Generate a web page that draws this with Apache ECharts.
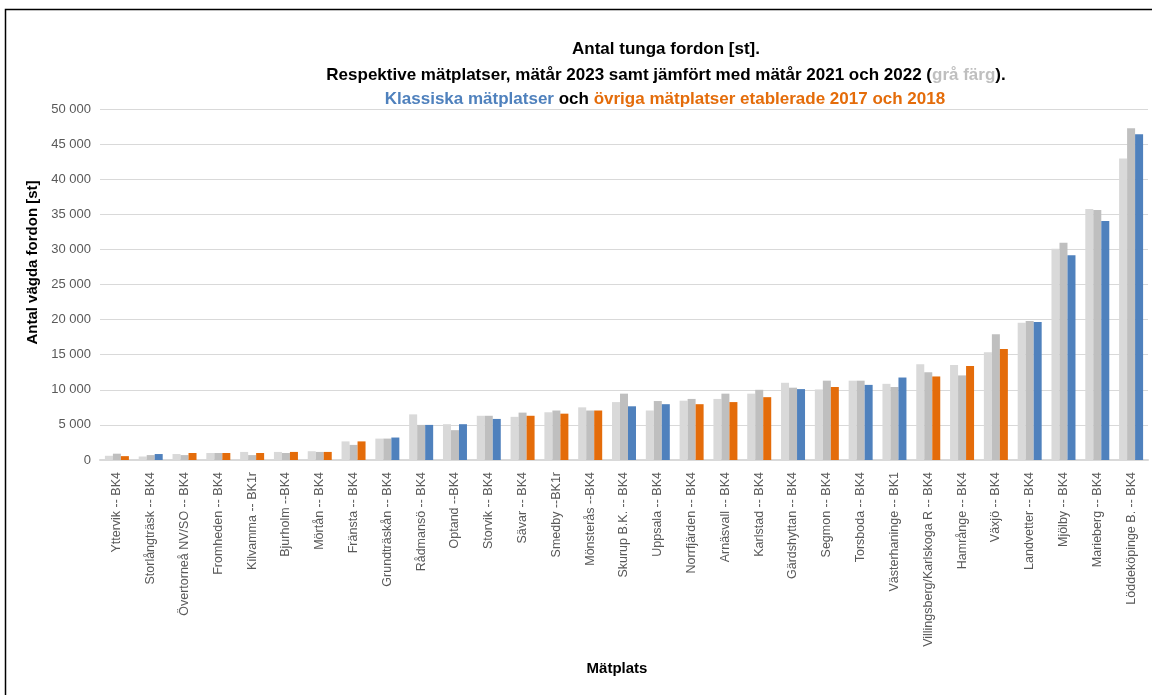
<!DOCTYPE html>
<html>
<head>
<meta charset="utf-8">
<script src="https://cdn.jsdelivr.net/npm/echarts@6/dist/echarts.min.js"></script>
<style>
html, body { margin: 0; padding: 0; background: #fff; }
#chart { width: 1152px; height: 695px; }
</style>
</head>
<body>
<div id="chart"></div>
<script>
var platser = [
    'Yttervik -- BK4', 'Storlångträsk -- BK4', 'Övertorneå NV/SO -- BK4', 'Fromheden -- BK4',
    'Kilvamma -- BK1r', 'Bjurholm --BK4', 'Mörtån -- BK4', 'Fränsta -- BK4', 'Grundträskån -- BK4',
    'Rådmansö -- BK4', 'Optand --BK4', 'Storvik -- BK4', 'Sävar -- BK4', 'Smedby --BK1r',
    'Mönsterås --BK4', 'Skurup B.K. -- BK4', 'Uppsala -- BK4', 'Norrfjärden -- BK4',
    'Arnäsvall -- BK4', 'Karlstad -- BK4', 'Gärdshyttan -- BK4', 'Segmon -- BK4',
    'Torsboda -- BK4', 'Västerhaninge -- BK1', 'Villingsberg/Karlskoga R -- BK4',
    'Hamrånge -- BK4', 'Växjö -- BK4', 'Landvetter -- BK4', 'Mjölby -- BK4',
    'Marieberg -- BK4', 'Löddeköpinge B. -- BK4'
];
// k = klassisk mätplats, o = övrig (etablerad 2017/2018)
var typ = ['o','k','o','o','o','o','o','o','k','k','k','k','o','o','o','k','k','o','o','o',
           'k','o','k','k','o','o','o','k','k','k','k'];
var mat2021 = [600, 500, 850, 1000, 1150, 1150, 1250, 2650, 3050, 6500, 5100, 6300, 6150, 6800,
               7500, 8250, 7050, 8450, 8700, 9450, 11000, 10050, 11300, 10850, 13650, 13550,
               15350, 19550, 30100, 35750, 42950];
var mat2022 = [900, 700, 700, 1000, 700, 1000, 1150, 2150, 3050, 5000, 4250, 6300, 6750, 7050,
               7050, 9450, 8400, 8700, 9450, 10000, 10300, 11300, 11300, 10400, 12500, 12050,
               17900, 19800, 30950, 35600, 47250];
var mat2023 = [550, 850, 1000, 1000, 1000, 1150, 1150, 2650, 3200, 5000, 5100, 5850, 6300, 6600,
               7050, 7650, 7950, 7950, 8250, 8950, 10100, 10400, 10700, 11750, 11900, 13400,
               15800, 19650, 29150, 34050, 46400];
var yTicks = [0, 5000, 10000, 15000, 20000, 25000, 30000, 35000, 40000, 45000, 50000];

var BLA = '#4f81bd', ORANGE = '#e46c0a';
var font = 'Liberation Sans';

function tusental(v) {
    return String(v).replace(/\B(?=(\d{3})+(?!\d))/g, ' ');
}

var chart = echarts.init(document.getElementById('chart'));
var option = {
    animation: false,
    backgroundColor: '#fff',
    textStyle: { fontFamily: font },
    graphic: [{
        type: 'rect',
        shape: { x: 5.5, y: 9.5, width: 1300, height: 900 },
        style: { fill: 'none', stroke: '#000', lineWidth: 1.5 },
        silent: true
    }],
    title: [{
        text: 'Antal tunga fordon [st].',
        left: 661, top: 36, textAlign: 'center',
        textStyle: { fontSize: 17, fontWeight: 'bold', color: '#000', fontFamily: font }
    }, {
        text: 'Respektive mätplatser, mätår 2023 samt jämfört med mätår 2021 och 2022 ({g|grå färg}).',
        left: 661, top: 62, textAlign: 'center',
        textStyle: {
            fontSize: 17, fontWeight: 'bold', color: '#000', fontFamily: font,
            rich: { g: { fontSize: 17, fontWeight: 'bold', color: '#bfbfbf', fontFamily: font } }
        }
    }, {
        text: '{b|Klassiska mätplatser} och {o|övriga mätplatser etablerade 2017 och 2018}',
        left: 660, top: 86, textAlign: 'center',
        textStyle: {
            fontSize: 17, fontWeight: 'bold', color: '#000', fontFamily: font,
            rich: {
                b: { fontSize: 17, fontWeight: 'bold', color: BLA, fontFamily: font },
                o: { fontSize: 17, fontWeight: 'bold', color: ORANGE, fontFamily: font }
            }
        }
    }],
    grid: { left: 100, right: 4, top: 109, bottom: 235 },
    xAxis: {
        type: 'category',
        data: platser,
        name: 'Mätplats',
        nameLocation: 'middle',
        nameGap: 201,
        nameTextStyle: { fontSize: 15, fontWeight: 'bold', color: '#000', fontFamily: font, padding: [0, 14, 0, 0] },
        axisLine: { lineStyle: { color: '#d9d9d9', width: 2 } },
        axisTick: { show: false },
        axisLabel: { rotate: 90, interval: 0, fontSize: 12.5, color: '#595959', margin: 12, fontFamily: font }
    },
    yAxis: {
        type: 'value',
        min: yTicks[0],
        max: yTicks[yTicks.length - 1],
        interval: 5000,
        name: 'Antal vägda fordon [st]',
        nameLocation: 'middle',
        nameGap: 59,
        nameTextStyle: { fontSize: 15, fontWeight: 'bold', color: '#000', fontFamily: font, padding: [0, 0, 0, 44] },
        axisLine: { show: false },
        axisTick: { show: false },
        splitLine: { lineStyle: { color: '#d9d9d9', width: 1 } },
        axisLabel: {
            fontSize: 13, color: '#595959', margin: 9, fontFamily: font,
            formatter: tusental
        }
    },
    series: [{
        name: '2021', type: 'bar', barWidth: 8, barGap: '0%',
        itemStyle: { color: '#d9d9d9' },
        data: mat2021
    }, {
        name: '2022', type: 'bar', barWidth: 8, barGap: '0%',
        itemStyle: { color: '#bfbfbf' },
        data: mat2022
    }, {
        name: '2023', type: 'bar', barWidth: 8, barGap: '0%',
        data: mat2023.map(function (v, i) {
            return { value: v, itemStyle: { color: typ[i] === 'k' ? BLA : ORANGE } };
        })
    }]
};
chart.setOption(option);
</script>
</body>
</html>
